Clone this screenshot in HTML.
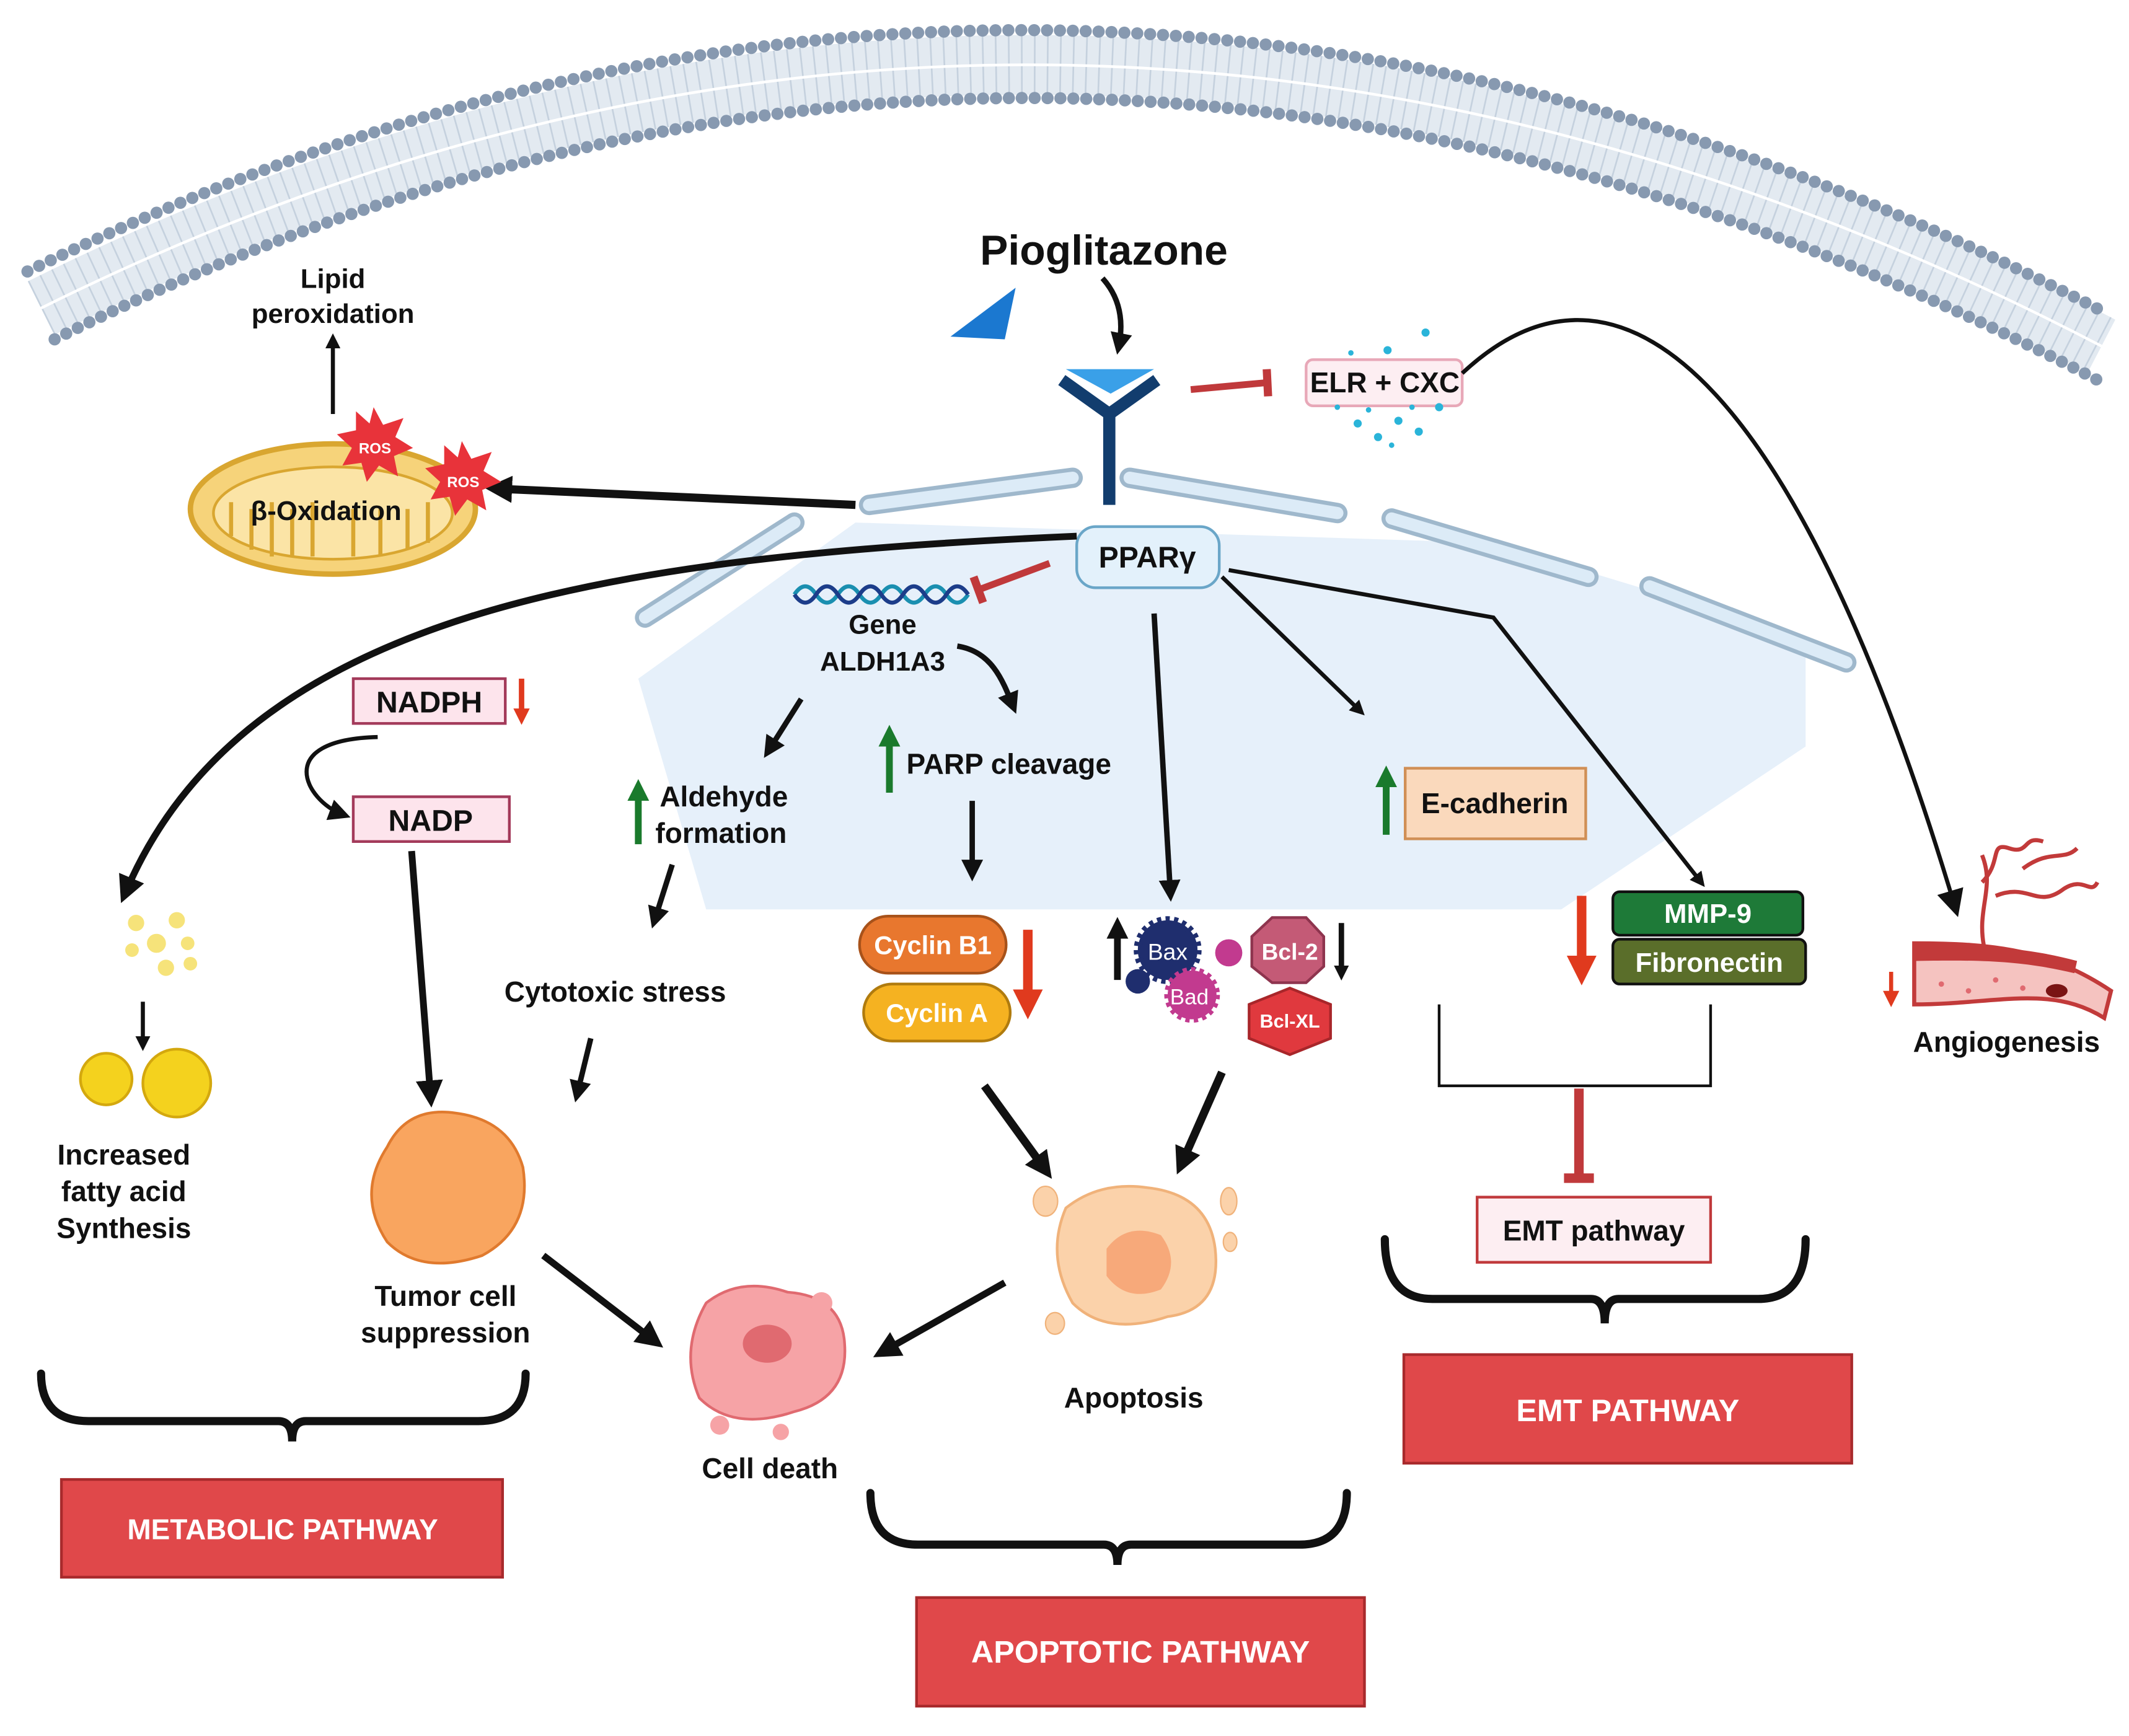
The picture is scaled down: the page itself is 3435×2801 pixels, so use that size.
<!DOCTYPE html>
<html><head><meta charset="utf-8"><style>
html,body{margin:0;padding:0;background:#fff}
svg{display:block}
text{font-family:"Liberation Sans",sans-serif;font-weight:bold;fill:#111}
</style></head><body>
<svg width="3435" height="2801" viewBox="0 0 1568 1279" xmlns="http://www.w3.org/2000/svg">
<defs>
<marker id="ah" viewBox="0 0 10 10" refX="6" refY="5" markerUnits="userSpaceOnUse" markerWidth="16" markerHeight="16" orient="auto"><path d="M0,0 L10,5 L0,10 z" fill="#111"/></marker>
<marker id="ahm" viewBox="0 0 10 10" refX="6" refY="5" markerUnits="userSpaceOnUse" markerWidth="20" markerHeight="20" orient="auto"><path d="M0,0 L10,5 L0,10 z" fill="#111"/></marker>
<marker id="ahs" viewBox="0 0 10 10" refX="6" refY="5" markerUnits="userSpaceOnUse" markerWidth="11" markerHeight="11" orient="auto"><path d="M0,0 L10,5 L0,10 z" fill="#111"/></marker>
<marker id="ahr" viewBox="0 0 10 10" refX="5" refY="5" markerUnits="userSpaceOnUse" markerWidth="22" markerHeight="22" orient="auto"><path d="M0,0 L10,5 L0,10 z" fill="#e03a1e"/></marker>
<marker id="ahrs" viewBox="0 0 10 10" refX="5" refY="5" markerUnits="userSpaceOnUse" markerWidth="12" markerHeight="12" orient="auto"><path d="M0,0 L10,5 L0,10 z" fill="#e03a1e"/></marker>
<marker id="ahg" viewBox="0 0 10 10" refX="5" refY="5" markerUnits="userSpaceOnUse" markerWidth="16" markerHeight="16" orient="auto"><path d="M0,0 L10,5 L0,10 z" fill="#1a7a2c"/></marker>
</defs>
<!-- membrane -->
<g fill="none">
<path d="M30,227 Q780,-145 1548,255" stroke="#e3eaf1" stroke-width="44"/>
<path d="M30,227 Q780,-145 1548,255" stroke="#b8c6d6" stroke-width="44" stroke-dasharray="1.2 8.3" opacity="0.7"/>
<path d="M30,227 Q780,-145 1548,255" stroke="#fff" stroke-width="2"/>
<path d="M20,200 Q780,-170 1550,230" stroke="#8799b0" stroke-width="9" stroke-dasharray="0 9.5" stroke-linecap="round"/>
<path d="M40,250 Q780,-120 1545,280" stroke="#8799b0" stroke-width="9" stroke-dasharray="0 9.5" stroke-linecap="round"/>
</g>
<!-- nucleus -->
<polygon points="470,500 630,385 1100,400 1330,470 1330,550 1150,670 520,670" fill="#e6f0fa"/>
<g stroke-linecap="round" fill="none">
<g stroke="#9fb8cc" stroke-width="15">
<path d="M640,372 L790,352"/><path d="M832,352 L985,378"/><path d="M1025,382 L1170,425"/><path d="M1215,432 L1360,488"/><path d="M475,455 L585,385"/>
</g>
<g stroke="#dcebf7" stroke-width="9">
<path d="M640,372 L790,352"/><path d="M832,352 L985,378"/><path d="M1025,382 L1170,425"/><path d="M1215,432 L1360,488"/><path d="M475,455 L585,385"/>
</g></g>
<!-- pioglitazone -->
<text x="813" y="195" font-size="31" text-anchor="middle">Pioglitazone</text>
<polygon points="700,248 748,212 740,250" fill="#1b78d0"/>
<path d="M812,205 Q830,225 824,255" stroke="#111" stroke-width="4" fill="none" marker-end="url(#ah)"/>
<!-- receptor -->
<polygon points="785,272 850,272 818,290" fill="#3aa0e8"/>
<path d="M782,280 L817,305 L852,280" stroke="#123d6e" stroke-width="9" fill="none"/>
<path d="M817,303 L817,372" stroke="#123d6e" stroke-width="9"/>
<path d="M877,287 L932,282" stroke="#c0393b" stroke-width="5"/>
<path d="M933,272 L934,292" stroke="#c0393b" stroke-width="6"/>
<rect x="962" y="265" width="115" height="34" rx="5" fill="#fdeef2" stroke="#e8a8b8" stroke-width="2"/>
<text x="1020" y="289" font-size="21" text-anchor="middle">ELR + CXC</text>
<g fill="#2ab4d9">
<circle cx="1000" cy="312" r="3"/><circle cx="1015" cy="322" r="3"/><circle cx="1030" cy="310" r="3"/><circle cx="1045" cy="318" r="3"/><circle cx="1022" cy="258" r="3"/><circle cx="1050" cy="245" r="3"/><circle cx="995" cy="260" r="2"/><circle cx="1008" cy="302" r="2"/><circle cx="1060" cy="300" r="3"/><circle cx="1040" cy="300" r="2"/><circle cx="985" cy="300" r="2"/><circle cx="1025" cy="328" r="2"/>
</g>
<path d="M1077,275 C1200,160 1330,300 1440,668" stroke="#111" stroke-width="3" fill="none" marker-end="url(#ahm)"/>
<!-- PPARg -->
<rect x="793" y="388" width="105" height="45" rx="14" fill="#e3f1fb" stroke="#6aa6c8" stroke-width="2"/>
<text x="845" y="418" font-size="22" text-anchor="middle">PPARγ</text>
<path d="M630,372 L365,360" stroke="#111" stroke-width="6" marker-end="url(#ahm)"/>
<!-- mitochondrion -->
<ellipse cx="245" cy="375" rx="105" ry="48" fill="#f6d37a" stroke="#d9a630" stroke-width="4"/>
<ellipse cx="245" cy="378" rx="88" ry="34" fill="#fbe4a6" stroke="#d9a630" stroke-width="2"/>
<path d="M170,395 v-25 M185,405 v-30 M200,410 v-40 M215,410 v-35 M230,410 v-40 M260,410 v-35 M280,410 v-35 M300,405 v-30 M315,400 v-30" stroke="#d9a630" stroke-width="3"/>
<text x="240" y="383" font-size="20" text-anchor="middle">β-Oxidation</text>
<polygon points="275,300 282,313 297,308 291,322 304,330 290,336 293,351 279,343 270,355 266,341 252,343 259,330 248,320 262,317 262,303 272,312" fill="#e8333a"/>
<text x="276" y="334" font-size="11" text-anchor="middle" style="fill:#fff">ROS</text>
<polygon points="340,325 347,338 362,333 356,347 369,355 355,361 358,376 344,368 335,380 331,366 317,368 324,355 313,345 327,342 327,328 337,337" fill="#e8333a"/>
<text x="341" y="359" font-size="11" text-anchor="middle" style="fill:#fff">ROS</text>
<path d="M245,305 L245,250" stroke="#111" stroke-width="3" marker-end="url(#ahs)"/>
<text x="245" y="212" font-size="20" text-anchor="middle">Lipid</text>
<text x="245" y="238" font-size="20" text-anchor="middle">peroxidation</text>
<path d="M793,395 C450,410 180,450 92,658" stroke="#111" stroke-width="5" fill="none" marker-end="url(#ahm)"/>
<!-- NADPH -->
<rect x="260" y="500" width="112" height="33" fill="#fde4ec" stroke="#a33a5a" stroke-width="2"/>
<text x="316" y="525" font-size="22" text-anchor="middle">NADPH</text>
<path d="M384,500 L384,528" stroke="#e03a1e" stroke-width="4" marker-end="url(#ahrs)"/>
<path d="M278,543 C200,545 225,590 252,600" stroke="#111" stroke-width="3" fill="none" marker-end="url(#ah)"/>
<rect x="260" y="587" width="115" height="33" fill="#fde4ec" stroke="#a33a5a" stroke-width="2"/>
<text x="317" y="612" font-size="22" text-anchor="middle">NADP</text>
<path d="M303,627 L317,808" stroke="#111" stroke-width="5" marker-end="url(#ahm)"/>
<!-- fatty acid -->
<g fill="#f6e37a"><circle cx="100" cy="680" r="6"/><circle cx="115" cy="695" r="7"/><circle cx="130" cy="678" r="6"/><circle cx="97" cy="700" r="5"/><circle cx="122" cy="713" r="6"/><circle cx="138" cy="695" r="5"/><circle cx="140" cy="710" r="5"/></g>
<path d="M105,738 L105,770" stroke="#111" stroke-width="3" marker-end="url(#ahs)"/>
<circle cx="78" cy="795" r="19" fill="#f4d21e" stroke="#d4a80e" stroke-width="2"/>
<circle cx="130" cy="798" r="25" fill="#f4d21e" stroke="#d4a80e" stroke-width="2"/>
<text x="91" y="858" font-size="21" text-anchor="middle">Increased</text>
<text x="91" y="885" font-size="21" text-anchor="middle">fatty acid</text>
<text x="91" y="912" font-size="21" text-anchor="middle">Synthesis</text>
<!-- tumor -->
<path d="M285,845 Q300,815 335,820 Q375,825 385,860 Q392,905 355,925 Q310,940 285,915 Q262,880 285,845z" fill="#f9a55f" stroke="#e07a2e" stroke-width="2"/>
<text x="328" y="962" font-size="21" text-anchor="middle">Tumor cell</text>
<text x="328" y="989" font-size="21" text-anchor="middle">suppression</text>
<path d="M400,925 L482,988" stroke="#111" stroke-width="5" marker-end="url(#ahm)"/>
<!-- cell death -->
<path d="M520,960 Q545,940 580,952 Q620,955 622,990 Q625,1030 585,1040 Q540,1055 515,1030 Q500,995 520,960z" fill="#f6a3a6" stroke="#e06a70" stroke-width="2"/>
<ellipse cx="565" cy="990" rx="18" ry="14" fill="#e06a70"/>
<circle cx="605" cy="960" r="8" fill="#f6a3a6"/><circle cx="530" cy="1050" r="7" fill="#f6a3a6"/><circle cx="575" cy="1055" r="6" fill="#f6a3a6"/>
<text x="567" y="1089" font-size="21" text-anchor="middle">Cell death</text>
<!-- DNA -->
<path d="M585,438 q8,-12 16,0 t16,0 t16,0 t16,0 t16,0 t16,0 t16,0 t16,0" stroke="#1a8fb0" stroke-width="3" fill="none"/>
<path d="M585,438 q8,12 16,0 t16,0 t16,0 t16,0 t16,0 t16,0 t16,0 t16,0" stroke="#1c3d8a" stroke-width="3" fill="none"/>
<path d="M773,415 L722,434" stroke="#c0393b" stroke-width="5"/>
<path d="M717,425 L724,444" stroke="#c0393b" stroke-width="6"/>
<text x="650" y="467" font-size="20" text-anchor="middle">Gene</text>
<text x="650" y="494" font-size="20" text-anchor="middle">ALDH1A3</text>
<path d="M590,515 L566,553" stroke="#111" stroke-width="4" marker-end="url(#ah)"/>
<path d="M470,622 L470,582" stroke="#1a7a2c" stroke-width="5" marker-end="url(#ahg)"/>
<text x="533" y="594" font-size="21" text-anchor="middle">Aldehyde</text>
<text x="531" y="621" font-size="21" text-anchor="middle">formation</text>
<path d="M495,637 L482,678" stroke="#111" stroke-width="4" marker-end="url(#ah)"/>
<text x="453" y="738" font-size="21" text-anchor="middle">Cytotoxic stress</text>
<path d="M435,765 L425,806" stroke="#111" stroke-width="4" marker-end="url(#ah)"/>
<path d="M705,476 C730,480 738,500 746,520" stroke="#111" stroke-width="4" fill="none" marker-end="url(#ah)"/>
<path d="M655,584 L655,542" stroke="#1a7a2c" stroke-width="5" marker-end="url(#ahg)"/>
<text x="743" y="570" font-size="21" text-anchor="middle">PARP cleavage</text>
<path d="M716,590 L716,643" stroke="#111" stroke-width="4" marker-end="url(#ah)"/>
<!-- cyclins -->
<rect x="633" y="675" width="108" height="42" rx="21" fill="#e8772e" stroke="#a8521a" stroke-width="2"/>
<text x="687" y="703" font-size="19" text-anchor="middle" style="fill:#fff">Cyclin B1</text>
<rect x="636" y="725" width="108" height="42" rx="21" fill="#f5b221" stroke="#b07b0e" stroke-width="2"/>
<text x="690" y="753" font-size="19" text-anchor="middle" style="fill:#fff">Cyclin A</text>
<path d="M757,685 L757,740" stroke="#e03a1e" stroke-width="7" marker-end="url(#ahr)"/>
<path d="M850,452 L862,658" stroke="#111" stroke-width="4" marker-end="url(#ah)"/>
<!-- Bax etc -->
<path d="M823,722 L823,682" stroke="#111" stroke-width="5" marker-end="url(#ah)"/>
<circle cx="860" cy="700" r="22" fill="#1f2e6e" stroke="#1f2e6e" stroke-width="6" stroke-dasharray="3 3"/>
<text x="860" y="707" font-size="17" text-anchor="middle" style="fill:#fff;font-weight:normal">Bax</text>
<circle cx="878" cy="733" r="18" fill="#c23a8f" stroke="#c23a8f" stroke-width="5" stroke-dasharray="3 3"/>
<text x="876" y="740" font-size="16" text-anchor="middle" style="fill:#fff;font-weight:normal">Bad</text>
<circle cx="838" cy="723" r="9" fill="#1f2e6e"/>
<circle cx="905" cy="702" r="10" fill="#c23a8f"/>
<polygon points="937,676 962,676 975,690 975,712 962,724 937,724 922,712 922,690" fill="#c45a76" stroke="#8e344e" stroke-width="2"/>
<text x="950" y="707" font-size="17" text-anchor="middle" style="fill:#fff">Bcl-2</text>
<polygon points="950,728 980,740 980,765 950,777 920,765 920,740" fill="#e0393e" stroke="#a8262a" stroke-width="2"/>
<text x="950" y="757" font-size="14" text-anchor="middle" style="fill:#fff">Bcl-XL</text>
<path d="M988,680 L988,718" stroke="#111" stroke-width="4" marker-end="url(#ahs)"/>
<path d="M725,800 L770,862" stroke="#111" stroke-width="6" marker-end="url(#ahm)"/>
<path d="M900,790 L870,858" stroke="#111" stroke-width="6" marker-end="url(#ahm)"/>
<!-- apoptosis -->
<path d="M785,890 Q810,870 845,875 Q890,880 895,920 Q900,965 860,970 Q815,985 790,960 Q770,925 785,890z" fill="#fbd2aa" stroke="#f0b27a" stroke-width="2"/>
<path d="M815,920 Q830,900 855,910 Q870,930 855,950 Q830,960 815,940z" fill="#f7a97a"/>
<ellipse cx="770" cy="885" rx="9" ry="11" fill="#fbd2aa" stroke="#f0b27a"/><ellipse cx="905" cy="885" rx="6" ry="10" fill="#fbd2aa" stroke="#f0b27a"/><ellipse cx="906" cy="915" rx="5" ry="7" fill="#fbd2aa" stroke="#f0b27a"/><ellipse cx="777" cy="975" rx="7" ry="8" fill="#fbd2aa" stroke="#f0b27a"/>
<text x="835" y="1037" font-size="21" text-anchor="middle">Apoptosis</text>
<path d="M740,945 L650,996" stroke="#111" stroke-width="5" marker-end="url(#ahm)"/>
<!-- E-cadherin -->
<path d="M900,425 L1002,524" stroke="#111" stroke-width="3" marker-end="url(#ahs)"/>
<rect x="1035" y="566" width="133" height="52" fill="#fad9bc" stroke="#d08f55" stroke-width="2"/>
<text x="1101" y="599" font-size="21" text-anchor="middle">E-cadherin</text>
<path d="M1021,615 L1021,572" stroke="#1a7a2c" stroke-width="5" marker-end="url(#ahg)"/>
<path d="M905,420 L1100,455 L1253,650" stroke="#111" stroke-width="3" fill="none" marker-end="url(#ahs)"/>
<!-- MMP-9 -->
<rect x="1188" y="657" width="140" height="32" rx="5" fill="#1e7a38" stroke="#111" stroke-width="2"/>
<text x="1258" y="680" font-size="20" text-anchor="middle" style="fill:#fff">MMP-9</text>
<rect x="1188" y="692" width="142" height="33" rx="5" fill="#5a6e2a" stroke="#111" stroke-width="2"/>
<text x="1259" y="716" font-size="20" text-anchor="middle" style="fill:#fff">Fibronectin</text>
<path d="M1165,660 L1165,715" stroke="#e03a1e" stroke-width="7" marker-end="url(#ahr)"/>
<path d="M1060,740 L1060,800 L1260,800 L1260,740" stroke="#111" stroke-width="2" fill="none"/>
<path d="M1163,802 L1163,866" stroke="#c0393b" stroke-width="7"/>
<path d="M1152,868 L1174,868" stroke="#c0393b" stroke-width="7"/>
<rect x="1088" y="882" width="172" height="48" fill="#fdeef2" stroke="#c0393b" stroke-width="2"/>
<text x="1174" y="914" font-size="21" text-anchor="middle">EMT pathway</text>
<!-- angiogenesis -->
<g stroke="#c23a3a" stroke-width="3" fill="none">
<path d="M1462,700 C1455,670 1470,655 1460,630"/>
<path d="M1460,650 C1475,635 1465,620 1480,625 C1495,630 1490,615 1505,620"/>
<path d="M1470,660 C1495,650 1500,670 1520,655 C1535,645 1540,660 1545,650"/>
<path d="M1490,640 C1510,625 1520,635 1530,625"/>
</g>
<path d="M1410,695 C1470,695 1510,700 1555,730 L1550,750 C1510,725 1470,740 1410,740 z" fill="#f5c3c0" stroke="#c23a3a" stroke-width="3"/>
<path d="M1410,696 C1470,696 1500,700 1530,708 L1528,717 C1490,708 1460,707 1410,708z" fill="#c23a3a"/>
<ellipse cx="1515" cy="730" rx="8" ry="5" fill="#7a1414"/>
<g fill="#e06a70"><circle cx="1430" cy="725" r="2"/><circle cx="1450" cy="730" r="2"/><circle cx="1470" cy="722" r="2"/><circle cx="1490" cy="728" r="2"/></g>
<path d="M1393,716 L1393,736" stroke="#e03a1e" stroke-width="3" marker-end="url(#ahrs)"/>
<text x="1478" y="775" font-size="21" text-anchor="middle">Angiogenesis</text>
<!-- braces -->
<g stroke="#111" stroke-width="6" fill="none" stroke-linecap="round">
<path d="M30,1012 Q30,1047 65,1047 L205,1047 Q215,1047 215,1062 Q215,1047 225,1047 L352,1047 Q387,1047 387,1012"/>
<path d="M641,1100 Q641,1138 676,1138 L813,1138 Q823,1138 823,1153 Q823,1138 833,1138 L957,1138 Q992,1138 992,1100"/>
<path d="M1020,913 Q1020,957 1055,957 L1172,957 Q1182,957 1182,975 Q1182,957 1192,957 L1295,957 Q1330,957 1330,913"/>
</g>
<rect x="45" y="1090" width="325" height="72" fill="#e0484a" stroke="#a82a2c" stroke-width="2"/>
<text x="208" y="1134" font-size="21" text-anchor="middle" style="fill:#fff">METABOLIC PATHWAY</text>
<rect x="675" y="1177" width="330" height="80" fill="#e0484a" stroke="#a82a2c" stroke-width="2"/>
<text x="840" y="1225" font-size="23" text-anchor="middle" style="fill:#fff">APOPTOTIC PATHWAY</text>
<rect x="1034" y="998" width="330" height="80" fill="#e0484a" stroke="#a82a2c" stroke-width="2"/>
<text x="1199" y="1047" font-size="23" text-anchor="middle" style="fill:#fff">EMT PATHWAY</text>
</svg>
</body></html>
